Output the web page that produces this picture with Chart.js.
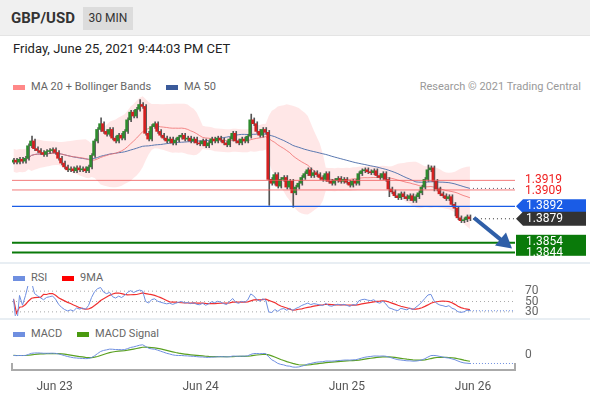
<!DOCTYPE html>
<html><head><meta charset="utf-8">
<script src="https://cdn.jsdelivr.net/npm/chart.js@4.4.1/dist/chart.umd.min.js"></script>
<style>
body{margin:0;width:590px;height:400px;background:#fff;font-family:Roboto,Arial,sans-serif;position:relative;overflow:hidden}
#hdr{position:absolute;left:0;top:0;width:590px;height:35px;background:#f0f0f0;border-bottom:1px solid #e4e4e4}
#sym{position:absolute;left:11px;top:9px;font-size:15px;font-weight:bold;color:#333}
#tf{position:absolute;left:83px;top:7px;width:50px;height:23px;background:#dcdcdc;font-size:12px;color:#333;text-align:center;line-height:23px}
#date{position:absolute;left:13px;top:41px;font-size:13px;color:#222}
.lg{position:absolute;font-size:11px;color:#666}
.sw{display:inline-block;width:12px;height:5px;margin-right:6px;vertical-align:middle}
canvas{position:absolute;left:0}
.sep{position:absolute;left:0;width:590px;height:2px;background:#e8eef3}
</style></head><body>
<div id="hdr"><div id="sym">GBP/USD</div><div id="tf">30 MIN</div></div>
<div id="date">Friday, June 25, 2021 9:44:03 PM CET</div>
<div class="lg" style="left:13px;top:80px"><span class="sw" style="background:#f88"></span>MA 20 + Bollinger Bands <span class="sw" style="background:#3a5a9a;margin-left:12px"></span>MA 50</div>
<div class="lg" style="right:9px;top:80px;color:#999">Research © 2021 Trading Central</div>
<div class="sep" style="top:262px"></div>
<div class="lg" style="left:13px;top:271px"><span class="sw" style="background:#6f8fe0"></span>RSI <span class="sw" style="background:#f00;margin-left:12px"></span>9MA</div>
<div class="sep" style="top:318px"></div>
<div class="lg" style="left:13px;top:327px"><span class="sw" style="background:#6f8fe0"></span>MACD <span class="sw" style="background:#4a9a10;margin-left:12px"></span>MACD Signal</div>
<canvas id="c1" width="590" height="170" style="top:92px"></canvas>
<canvas id="c2" width="590" height="34" style="top:284px"></canvas>
<canvas id="c3" width="590" height="78" style="top:321px"></canvas>
<script>
const closes=[1.3940,1.3938,1.3941,1.3939,1.3942,
1.3955,1.3960,
1.3952,1.3950,1.3948,1.3946,1.3949,1.3950,1.3951,1.3948,
1.3942,1.3937,1.3933,1.3930,
1.3931,1.3929,1.3932,1.3930,1.3931,1.3929,1.3933,
1.3945,1.3960,1.3972,1.3978,
1.3970,1.3967,1.3972,1.3963,1.3960,1.3966,1.3963,1.3970,
1.3982,1.3990,1.3986,1.3993,1.3998,
1.3996,1.3968,
1.3962,1.3975,1.3978,1.3970,1.3966,
1.3963,1.3960,1.3962,1.3958,1.3961,1.3964,1.3966,1.3962,1.3963,1.3960,1.3962,
1.3958,1.3957,1.3960,1.3955,1.3958,1.3962,1.3960,1.3963,1.3961,1.3958,1.3956,1.3962,1.3968,1.3960,1.3958,1.3962,1.3960,1.3965,
1.3982,1.3978,
1.3970,1.3966,1.3972,1.3969,
1.3920,
1.3916,1.3925,1.3913,1.3920,1.3922,1.3912,1.3918,
1.3906,1.3912,1.3916,
1.3922,1.3926,1.3930,1.3924,1.3927,1.3925,1.3922,1.3920,1.3926,
1.3918,1.3916,1.3919,1.3921,1.3918,1.3920,1.3917,1.3914,1.3918,1.3916,
1.3926,1.3929,1.3930,1.3928,1.3927,1.3929,1.3924,1.3922,1.3926,1.3920,
1.3910,1.3907,1.3903,1.3901,1.3905,1.3902,1.3900,1.3903,1.3898,1.3902,
1.3906,1.3912,1.3920,1.3930,1.3932,
1.3918,1.3910,1.3905,1.3903,1.3900,1.3902,1.3894,
1.3890,1.3880,1.3877,1.3878,1.3881,1.3879];
const firstOpen=1.3938;
const wickPips=2;
const longLowWicks={85:25,93:13,125:6,140:8,147:6};
const longHighWicks={6:3,29:4,42:3,79:4,138:3};
const resistance=[1.3919,1.3909];
const pivot=1.3892;
const last=1.3879;
const supports=[1.3854,1.3844];
const dateLabels=['Jun 23','Jun 24','Jun 25','Jun 26'];
const datePos=[13.7,62.3,111,153];
const rsiLevels=[70,50,30];

const XMIN=-0.5,XMAX=167;
const n=closes.length;
const opens=closes.map((c,i)=>i?closes[i-1]:firstOpen);
const highs=closes.map((c,i)=>Math.max(c,opens[i])+(wickPips+(longHighWicks[i]||0))*1e-4);
const lows=closes.map((c,i)=>Math.min(c,opens[i])-(wickPips+(longLowWicks[i]||0))*1e-4);
function sma(a,p){return a.map((v,i)=>{const s=a.slice(Math.max(0,i-p+1),i+1);return s.reduce((x,y)=>x+y,0)/s.length;});}
function sd(a,p){const m=sma(a,p);return a.map((v,i)=>{const s=a.slice(Math.max(0,i-p+1),i+1);return Math.sqrt(s.reduce((x,y)=>x+(y-m[i])**2,0)/s.length);});}
function ema(a,p){const k=2/(p+1);let e=a[0];return a.map(v=>e=v*k+e*(1-k));}
const ma20=sma(closes,20),ma50=sma(closes,50),sd20=sd(closes,20);
const up=ma20.map((m,i)=>m+2*Math.max(sd20[i],0.0006)),dn=ma20.map((m,i)=>m-2*Math.max(sd20[i],0.0006));
let ag=0,al=0;const rsi=closes.map((c,i)=>{if(!i)return 55;const d=c-closes[i-1];ag=(ag*13+Math.max(d,0))/14;al=(al*13+Math.max(-d,0))/14;return al===0?70:100-100/(1+ag/al);});
const rsiMa=sma(rsi,9);
const e26=ema(closes,26);
const macd=ema(closes,12).map((v,i)=>(v-e26[i])*1e4);
const sig=ema(macd,9);
const mAll=macd.concat(sig),mMin=Math.min(...mAll),mMax=Math.max(...mAll),mPad=(mMax-mMin)*0.08;
const pts=a=>a.map((y,i)=>({x:i,y}));
const green='#2e8b2e',red='#d42020';

const xBase={type:'linear',min:XMIN,max:XMAX,display:false,offset:false};
const baseOpts={animation:false,responsive:false,plugins:{legend:{display:false},tooltip:{enabled:false}},layout:{padding:{left:12,right:75}}};

const overlay={id:'ov',afterDatasetsDraw(ch){
 const c=ch.ctx,x=ch.scales.x,y=ch.scales.y,L=ch.chartArea.left,R=515;
 const hl=(v,col,w,dash,x0)=>{c.save();c.strokeStyle=col;c.lineWidth=w;c.setLineDash(dash||[]);c.beginPath();c.moveTo(x0||L,y.getPixelForValue(v));c.lineTo(R,y.getPixelForValue(v));c.stroke();c.restore();};
 resistance.forEach(v=>hl(v,'rgba(240,90,90,0.8)',1));
 hl(pivot,'#1a5ce6',1.2);
 supports.forEach(v=>hl(v,'#0a7a0a',2));
 const lx=x.getPixelForValue(n-1)+3;
 hl(last,'#333',1,[1,3],lx);hl(ma50[n-1],'#556',1,[1,3],lx);
 c.font='12px Roboto';c.textBaseline='middle';
 c.fillStyle='#f02020';c.fillText('1.3919',525,y.getPixelForValue(resistance[0]));c.fillText('1.3909',525,y.getPixelForValue(resistance[1])+1);
 const tag=(v,bg)=>{const py=y.getPixelForValue(v);c.fillStyle=bg;c.beginPath();c.moveTo(516,py);c.lineTo(523,py-7);c.lineTo(586,py-7);c.lineTo(586,py+7);c.lineTo(523,py+7);c.closePath();c.fill();c.fillStyle='#fff';c.fillText(v.toFixed(4),526,py);};
 tag(pivot,'#1a5ce6');tag(last,'#333');
 c.fillStyle='#0a7a0a';c.fillRect(516,y.getPixelForValue(supports[0])-8,70,21);
 c.fillStyle='#fff';c.fillText('1.3854',526,y.getPixelForValue(supports[0])-1);c.fillText('1.3844',526,y.getPixelForValue(supports[1])+1);
 const ax=x.getPixelForValue(n-1)+4,ay=y.getPixelForValue(last)-1,bx=510,by=y.getPixelForValue(1.3849);
 c.strokeStyle='#2f5fa8';c.fillStyle='#2f5fa8';c.lineWidth=4;c.beginPath();c.moveTo(ax,ay);c.lineTo(bx-8,by-7);c.stroke();
 c.beginPath();c.moveTo(bx+2,by+1);c.lineTo(bx-15,by-2);c.lineTo(bx-4,by-15);c.closePath();c.fill();
}};

new Chart(document.getElementById('c1'),{type:'bar',data:{datasets:[
 {type:'line',data:pts(up),borderWidth:0,pointRadius:0,fill:'+1',backgroundColor:'rgba(255,170,170,0.28)',order:5},
 {type:'line',data:pts(dn),borderWidth:0,pointRadius:0,order:5},
 {type:'line',data:pts(ma20),borderColor:'rgba(240,110,110,0.8)',borderWidth:1,pointRadius:0,order:4},
 {type:'line',data:pts(ma50),borderColor:'#5a78b0',borderWidth:1,pointRadius:0,order:4},
 {data:closes.map((c,i)=>({x:i,y:[lows[i],highs[i]]})),backgroundColor:'#555',barThickness:1,order:3},
 {data:closes.map((c,i)=>({x:i,y:[opens[i],c===opens[i]?c+0.00003:c]})),backgroundColor:closes.map((c,i)=>c>=opens[i]?green:red),barThickness:2,order:2}
]},options:{...baseOpts,scales:{x:xBase,y:{display:false,min:1.3834,max:1.4011}}},plugins:[overlay]});

const sub={id:'sub',beforeDatasetsDraw(ch){const c=ch.ctx,x=ch.scales.x,y=ch.scales.y,L=ch.chartArea.left;
 c.save();c.font='12px Roboto';c.textBaseline='middle';
 if(ch.canvas.id==='c2'){rsiLevels.forEach(v=>{const py=y.getPixelForValue(v);c.strokeStyle='#aaa';c.setLineDash([1,3]);c.beginPath();c.moveTo(L,py);c.lineTo(515,py);c.stroke();c.fillStyle='#666';c.fillText(String(v),525,py);});}
 else{c.fillStyle='#666';c.fillText('0',525,y.getPixelForValue(0));
  c.setLineDash([]);c.strokeStyle='#aaa';c.lineWidth=2;const b=ch.chartArea.bottom+1;c.beginPath();c.moveTo(L,b-7);c.lineTo(L,b);c.lineTo(515,b);c.lineTo(515,b-7);c.stroke();}
 c.restore();},
 afterDatasetsDraw(ch){const c=ch.ctx,x=ch.scales.x,y=ch.scales.y,d=ch.data.datasets[0].data,lv=d[d.length-1].y;c.save();c.strokeStyle='#6f8fe0';c.setLineDash([1,2]);c.beginPath();c.moveTo(x.getPixelForValue(n-1),y.getPixelForValue(lv));c.lineTo(515,y.getPixelForValue(lv));c.stroke();c.restore();}};

new Chart(document.getElementById('c2'),{type:'line',data:{datasets:[
 {data:pts(rsi),borderColor:'#6f8fe0',borderWidth:1,pointRadius:0},
 {data:pts(rsiMa),borderColor:'#f03030',borderWidth:1.2,pointRadius:0}
]},options:{...baseOpts,layout:{padding:{left:12,right:75,top:2,bottom:2}},scales:{x:xBase,y:{display:false,min:22,max:80}}},plugins:[sub]});

new Chart(document.getElementById('c3'),{type:'line',data:{datasets:[
 {data:pts(macd),borderColor:'#6f8fe0',borderWidth:1,pointRadius:0},
 {data:pts(sig),borderColor:'#5aa020',borderWidth:1.2,pointRadius:0}
]},options:{...baseOpts,layout:{padding:{left:12,right:75,top:22,bottom:4}},scales:{x:{type:'linear',min:XMIN,max:XMAX,offset:false,grid:{display:false},border:{display:false},
 afterBuildTicks(s){s.ticks=datePos.map(v=>({value:v}));},ticks:{autoSkip:false,maxRotation:0,color:'#555',font:{size:12,family:'Roboto'},callback:(v,i)=>dateLabels[i]}},
 y:{display:false,min:mMin-mPad,max:mMax+mPad}}},plugins:[sub]});
</script></body></html>
